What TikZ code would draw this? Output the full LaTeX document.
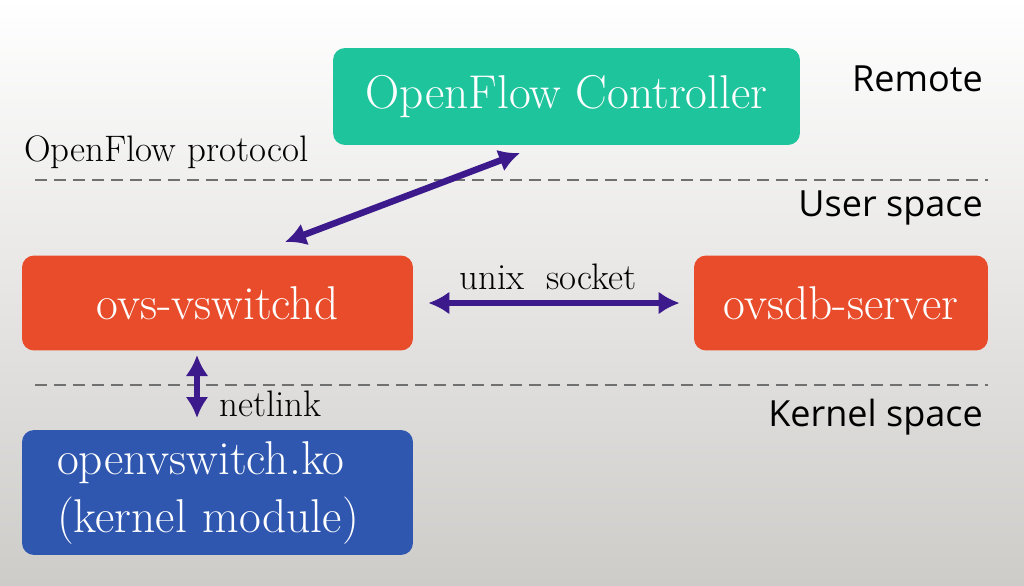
\documentclass[tikz,border=0pt]{standalone}
\usepackage{fontspec}
\usepackage{tikz}
\usetikzlibrary{arrows.meta,positioning}
\newfontfamily\layerfont{Open Sans}

\definecolor{ctrlgreen}{RGB}{30,196,156}
\definecolor{procred}{RGB}{232,76,42}
\definecolor{kernblue}{RGB}{47,87,176}
\definecolor{linkpurple}{RGB}{60,26,140}
\definecolor{dashgray}{RGB}{112,112,112}
\definecolor{bgbottom}{RGB}{206,204,201}
\definecolor{bgmiddle}{RGB}{243,242,240}

\tikzset{
  box/.style={rounded corners=0.24cm, text=white, inner sep=0pt,
              font=\fontsize{27}{33}\selectfont},
  layer/.style={anchor=base east, font=\layerfont\fontsize{20.5}{25}\selectfont},
  linklabel/.style={font=\fontsize{21}{25}\selectfont},
  link/.style={linkpurple, line width=0.13cm,
               {Latex[length=0.42cm,width=0.46cm]}-{Latex[length=0.42cm,width=0.46cm]}},
  sep/.style={dashgray, line width=0.05cm, dash pattern=on 0.24cm off 0.14cm},
}

\begin{document}
\begin{tikzpicture}[x=0.02cm, y=-0.02cm]
            \shade[top color=white, middle color=bgmiddle, bottom color=bgbottom]
                (0,0) rectangle (1024,585);
            \useasboundingbox (0,0) rectangle (1024,585);

            % boxes
            \node[box, fill=ctrlgreen, minimum width=9.34cm, minimum height=1.94cm]
                (ctrl) at (566.5,96.5) {OpenFlow Controller};
            \node[box, fill=procred, minimum width=7.82cm, minimum height=1.9cm]
                (vswitchd) at (217.5,303) {ovs-vswitchd};
            \node[box, fill=procred, minimum width=5.88cm, minimum height=1.9cm]
                (ovsdb) at (841,303) {ovsdb-server};
            \node[box, fill=kernblue, minimum width=7.82cm, minimum height=2.5cm,
                  align=left, text width=6.42cm, inner xsep=0.7cm]
                (kmod) at (217.5,492.5) {openvswitch.ko\\(kernel module)};

            % layers
            \coordinate (sep1w) at (35,180);
            \coordinate (sep1e) at (988,180);
            \coordinate (sep2w) at (35,385);
            \coordinate (sep2e) at (988,385);
            \draw[sep] (sep1w) -- (sep1e);
            \draw[sep] (sep2w) -- (sep2e);
            \node[layer] (remote) at (989,91) {Remote};
            \node[layer] (user) at (989,216) {User space};
            \node[layer] (kernel) at (989,426) {Kernel space};

            % links
            \coordinate (ofctrl) at (520,153);
            \coordinate (ofsw) at (285,242);
            \draw[link] (ofctrl) -- (ofsw);
            \node[linklabel, anchor=base west] (oflabel) at (18,161) {OpenFlow protocol};
            \draw[link] ([xshift=0.3cm]vswitchd.east) -- ([xshift=-0.28cm]ovsdb.west);
            \node[linklabel, anchor=base] (unixlabel) at (548,289) {unix\ \ socket};
            \coordinate (nltop) at (197,355);
            \coordinate (nlbot) at (197,418);
            \draw[link] (nltop) -- (nlbot);
            \node[linklabel, anchor=base west] (nllabel) at (213,416) {netlink};
\end{tikzpicture}
\end{document}
